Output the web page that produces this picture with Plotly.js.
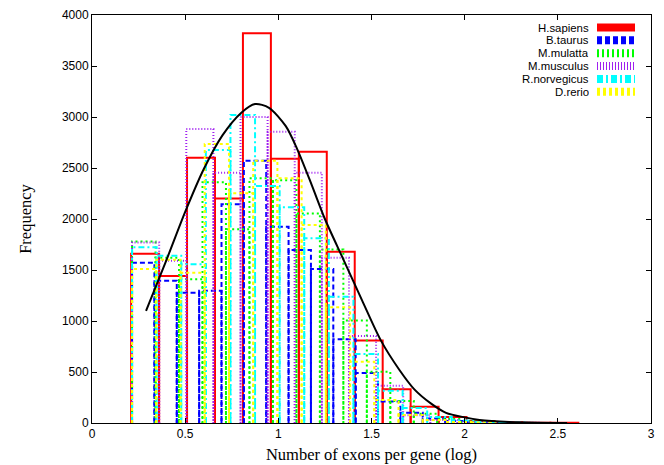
<!DOCTYPE html>
<html>
<head>
<meta charset="utf-8">
<script src="https://cdn.plot.ly/plotly-3.0.1.min.js"></script>
<style>html,body{margin:0;padding:0;background:#fff;}#plot{width:664px;height:465px;}</style>
</head>
<body>
<div id="plot"></div>
<script>
// ---- data ----
const seriesNames = ["H.sapiens", "B.taurus", "M.mulatta", "M.musculus", "R.norvegicus", "D.rerio"];
// first bin left edge and bin width (log10 units) for each species
const binStart = [0.21, 0.215, 0.215, 0.215, 0.215, 0.215];
const binWidth = [0.15, 0.12, 0.126, 0.1455, 0.132, 0.13];
const hSapiens   = [1660, 1440, 2600, 2200, 3820, 2590, 2660, 1680, 810, 330, 160, 60, 20, 8, 3, 2];
const bTaurus    = [1570, 1395, 1277, 1297, 2144, 2572, 1925, 1696, 1510, 820, 490, 210, 100, 45, 20, 8, 3];
const mMulatta   = [1780, 1620, 1410, 2360, 1900, 2400, 2380, 2055, 1700, 1005, 503, 216, 90, 40, 15, 5];
const mMusculus  = [1770, 1590, 2882, 2454, 3000, 2856, 2454, 1620, 853, 366, 75, 30, 12, 5, 2];
const rNorvegicus= [1722, 1640, 1556, 2676, 3020, 2324, 2115, 1811, 1238, 676, 316, 147, 60, 25, 10, 4];
const dRerio     = [1510, 1600, 1473, 2735, 2252, 2572, 2400, 1941, 1134, 601, 225, 78, 30, 10, 4];
const seriesValues = [hSapiens, bTaurus, mMulatta, mMusculus, rNorvegicus, dRerio];
// fitted curve
const fitX = [0.29, 0.40, 0.50, 0.60, 0.70, 0.80, 0.875, 0.95, 1.04, 1.10, 1.18, 1.25, 1.35, 1.45, 1.55, 1.65, 1.73, 1.82, 1.90, 2.00, 2.08, 2.24, 2.40, 2.55];
const fitY = [1100, 1600, 2070, 2490, 2820, 3040, 3127, 3090, 2910, 2690, 2330, 2000, 1600, 1200, 810, 520, 330, 190, 100, 55, 30, 10, 3, 1];
const xTicks = [0, 0.5, 1, 1.5, 2, 2.5, 3];
const xTickLabels = ["0", "0.5", "1", "1.5", "2", "2.5", "3"];
const yTicks = [0, 500, 1000, 1500, 2000, 2500, 3000, 3500, 4000];

// ---- styles ----
const colors = ["#ff0000", "#0000ff", "#00ff00", "#a020f0", "#00ffff", "#ffff00"];
const dashes = ["solid", "5px,3px", "2px,3px", "1px,2px", "6px,3px,2px,3px", "3px,3px"];

const traces = [];
seriesValues.forEach((vals, s) => {
  const xs = [], ys = [];
  vals.forEach((h, i) => {
    const a = binStart[s] + i * binWidth[s];
    const b = a + binWidth[s];
    xs.push(a, a, b, b, null);
    ys.push(0, h, h, 0, null);
  });
  traces.push({
    type: "scatter", mode: "lines", x: xs, y: ys, name: seriesNames[s],
    line: {color: colors[s], width: 2, dash: dashes[s]},
    connectgaps: false, showlegend: false, hoverinfo: "skip"
  });
});
traces.push({
  type: "scatter", mode: "lines", x: fitX, y: fitY, name: "fit",
  line: {color: "#000000", width: 2, shape: "spline", smoothing: 0.8}, showlegend: false
});

// custom legend (text right-aligned, sample to the right), pixel positions
const L = 92, R = 651, T = 15, B = 423;
const px = v => (v - L) / (R - L);
const py = v => (B - v) / (B - T);
const annotations = [], shapes = [];
seriesNames.forEach((n, i) => {
  const yy = 27.5 + i * 12.85;
  annotations.push({xref: "paper", yref: "paper", x: px(590), y: py(yy), xanchor: "right", yanchor: "middle",
    text: n, showarrow: false, height: 12, borderpad: 0,
    font: {family: "Liberation Sans, Arial, sans-serif", size: 11.4, color: "#000"}});
  shapes.push({type: "line", xref: "paper", yref: "paper", x0: px(597), x1: px(635), y0: py(yy), y1: py(yy),
    line: {color: colors[i], width: 8, dash: dashes[i]}});
});

const axisFont = {family: "Liberation Sans, Arial, sans-serif", size: 12, color: "#000"};
const titleFont = {family: "Liberation Serif, Times New Roman, serif", size: 16.5, color: "#000"};
const layout = {
  width: 664, height: 465,
  margin: {l: L, r: 664 - R, t: T, b: 465 - B},
  paper_bgcolor: "#fff", plot_bgcolor: "#fff",
  showlegend: false,
  xaxis: {range: [0, 3], tickvals: xTicks, ticktext: xTickLabels, ticks: "inside", ticklen: 5,
    tickcolor: "#000", showline: true, linecolor: "#000", linewidth: 1, mirror: "ticks",
    showgrid: false, zeroline: false, tickfont: axisFont,
    title: {text: "Number of exons per gene (log)", font: titleFont, standoff: 8}},
  yaxis: {range: [0, 4000], tickvals: yTicks, ticks: "inside", ticklen: 5,
    tickcolor: "#000", showline: true, linecolor: "#000", linewidth: 1, mirror: "ticks",
    showgrid: false, zeroline: false, tickfont: axisFont,
    title: {text: "Frequency", font: titleFont, standoff: 26}},
  annotations: annotations, shapes: shapes
};
Plotly.newPlot("plot", traces, layout, {staticPlot: true});
</script>
</body>
</html>
